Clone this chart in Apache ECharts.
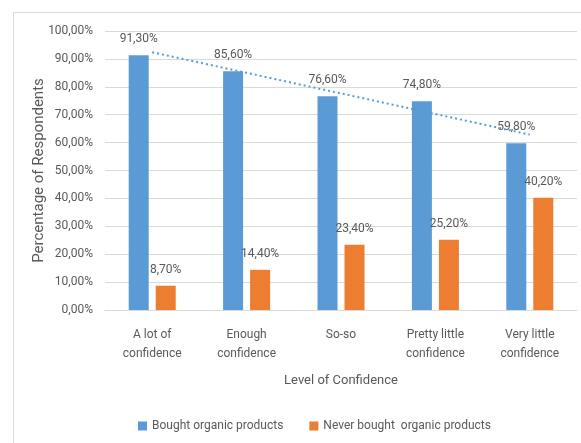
<!DOCTYPE html>
<html>
<head>
<meta charset="utf-8">
<script src="https://cdn.jsdelivr.net/npm/echarts@6/dist/echarts.min.js"></script>
<style>
  html, body { margin: 0; padding: 0; background: #fff; }
  #canvas { width: 581px; height: 443px; }
</style>
</head>
<body>
<div id="canvas"></div>
<script>
var categories = ['A lot of\nconfidence', 'Enough\nconfidence', 'So-so', 'Pretty little\nconfidence', 'Very little\nconfidence'];
var bought = [91.3, 85.6, 76.6, 74.8, 59.8];
var neverBought = [8.7, 14.4, 23.4, 25.2, 40.2];
var yTicks = [0, 10, 20, 30, 40, 50, 60, 70, 80, 90, 100];

// linear trendline over the "bought" series (like Excel's)
function trendline(vals) {
    var n = vals.length, sx = 0, sy = 0, sxy = 0, sxx = 0;
    for (var i = 0; i < n; i++) {
        sx += i; sy += vals[i]; sxy += i * vals[i]; sxx += i * i;
    }
    var b = (n * sxy - sx * sy) / (n * sxx - sx * sx);
    var a = (sy - b * sx) / n;
    return vals.map(function (v, i) { return a + b * i; });
}

function pct(v) {
    return v.toFixed(2).replace('.', ',') + '%';
}

var font = "Roboto, 'Liberation Sans', Arial, sans-serif";
var grey = '#595959';

var myChart = echarts.init(document.getElementById('canvas'));

var option = {
    animation: false,
    textStyle: { fontFamily: font },
    graphic: [{
        type: 'rect',
        shape: { x: 13.5, y: 12.5, width: 620, height: 520 },
        style: { fill: 'none', stroke: '#d9d9d9', lineWidth: 1 },
        silent: true
    }],
    grid: { left: 105, right: 4, top: 31, bottom: 133 },
    legend: {
        data: ['Bought organic products', 'Never bought  organic products'],
        bottom: 6,
        left: 133,
        itemWidth: 9,
        itemHeight: 9,
        itemGap: 26,
        icon: 'rect',
        textStyle: { color: grey, fontSize: 12, fontFamily: font }
    },
    xAxis: {
        type: 'category',
        data: categories,
        name: 'Level of Confidence',
        nameLocation: 'middle',
        nameGap: 64,
        nameMoveOverlap: false,
        nameTextStyle: { color: grey, fontSize: 13, fontFamily: font },
        axisLine: { lineStyle: { color: '#d9d9d9' } },
        axisTick: { show: false },
        axisLabel: { color: grey, fontSize: 12, margin: 15, lineHeight: 19, interval: 0, fontFamily: font }
    },
    yAxis: {
        type: 'value',
        min: yTicks[0],
        max: yTicks[yTicks.length - 1],
        interval: 10,
        name: 'Percentage of Respondents',
        nameLocation: 'middle',
        nameGap: 58,
        nameMoveOverlap: false,
        nameTextStyle: { color: grey, fontSize: 15, fontFamily: font },
        axisLine: { show: false },
        axisTick: { show: false },
        splitLine: { lineStyle: { color: '#d9d9d9' } },
        axisLabel: { color: grey, fontSize: 12, margin: 12, fontFamily: font, formatter: pct }
    },
    series: [{
        name: 'Bought organic products',
        type: 'bar',
        data: bought,
        barWidth: 20,
        barGap: '35%',
        itemStyle: { color: '#5b9bd5' },
        label: {
            show: true, position: 'top', distance: 10, color: grey, fontSize: 12, fontFamily: font,
            formatter: function (p) { return pct(p.value); }
        }
    }, {
        name: 'Never bought  organic products',
        type: 'bar',
        data: neverBought,
        barWidth: 20,
        itemStyle: { color: '#ed7d31' },
        label: {
            show: true, position: 'top', distance: 10, color: grey, fontSize: 12, fontFamily: font,
            formatter: function (p) { return pct(p.value); }
        }
    }, {
        name: 'trend',
        type: 'line',
        data: trendline(bought),
        symbol: 'none',
        z: 5,
        lineStyle: { color: '#5b9bd5', width: 2, type: [2, 3] }
    }]
};

myChart.setOption(option);
</script>
</body>
</html>
